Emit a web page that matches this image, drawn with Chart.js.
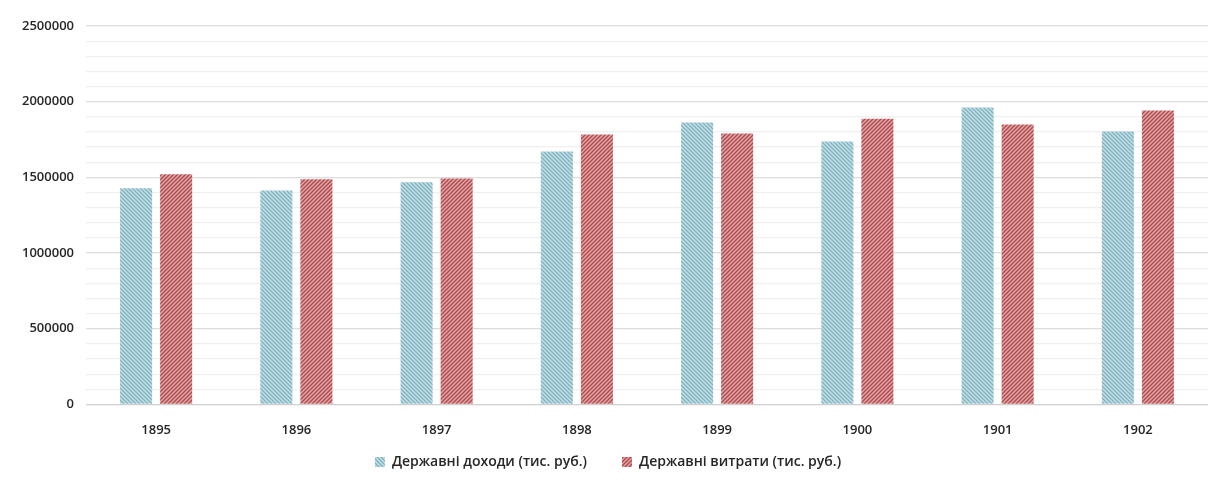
<!DOCTYPE html>
<html>
<head>
<meta charset="utf-8">
<script src="https://cdn.jsdelivr.net/npm/chart.js@4/dist/chart.umd.min.js"></script>
<style>
  html, body { margin: 0; padding: 0; background: #fff; }
  #wrap { position: relative; width: 1222px; height: 483px; }
</style>
</head>
<body>
<div id="wrap"><canvas id="myChart"></canvas></div>
<script>
const years = ['1895', '1896', '1897', '1898', '1899', '1900', '1901', '1902'];
const revenue = [1428000, 1414000, 1467000, 1671000, 1862000, 1737000, 1961000, 1803000];
const spending = [1520000, 1487000, 1493000, 1783000, 1789000, 1888000, 1849000, 1941000];
const revenueLabel = 'Державні доходи (тис. руб.)';
const spendingLabel = 'Державні витрати (тис. руб.)';

// hatch pattern: dir 1 = "\\\\", dir -1 = "////"
function hatch(bg, fg, dir) {
    const s = 4;
    const c = document.createElement('canvas');
    c.width = s; c.height = s;
    const g = c.getContext('2d');
    g.fillStyle = bg;
    g.fillRect(0, 0, s, s);
    g.strokeStyle = fg;
    g.lineWidth = 1.3;
    g.beginPath();
    if (dir > 0) {
        g.moveTo(-1, -1); g.lineTo(s + 1, s + 1);
        g.moveTo(-1, s - 1); g.lineTo(1, s + 1);
        g.moveTo(s - 1, -1); g.lineTo(s + 1, 1);
    } else {
        g.moveTo(-1, s + 1); g.lineTo(s + 1, -1);
        g.moveTo(-1, 1); g.lineTo(1, -1);
        g.moveTo(s - 1, s + 1); g.lineTo(s + 1, s - 1);
    }
    g.stroke();
    return g.createPattern(c, 'repeat');
}

const ctx = document.getElementById('myChart');
const blueFill = hatch('#c4e0e7', '#7fb1bf', 1);
const redFill = hatch('#e6a3a3', '#a94a4e', -1);
const tickFont = { family: 'Open Sans', size: 13, weight: '600' };

new Chart(ctx, {
    type: 'bar',
    data: {
        labels: years,
        datasets: [{
            label: revenueLabel,
            data: revenue,
            backgroundColor: blueFill,
            borderWidth: 0
        }, {
            label: spendingLabel,
            data: spending,
            backgroundColor: redFill,
            borderWidth: 0
        }]
    },
    options: {
        maintainAspectRatio: false,
        animation: false,
        layout: { padding: { left: 8, right: 14, top: 26, bottom: 4 } },
        datasets: { bar: { categoryPercentage: 0.571, barPercentage: 0.8 } },
        plugins: {
            tooltip: { enabled: false },
            legend: {
                position: 'bottom',
                labels: {
                    boxWidth: 10,
                    boxHeight: 10,
                    padding: 7,
                    color: '#262626',
                    font: { family: 'Open Sans', size: 14, weight: '600' },
                    // wider gap between the two legend items
                    generateLabels: (chart) => {
                        const items = Chart.defaults.plugins.legend.labels.generateLabels(chart);
                        items[0].text += '\u2003\u2003';
                        return items;
                    }
                }
            }
        },
        scales: {
            x: {
                grid: { display: false },
                border: { display: false },
                ticks: {
                    color: '#262626',
                    padding: 10,
                    font: tickFont
                }
            },
            y: {
                min: 0,
                max: 2500000,
                afterFit: (axis) => { axis.width = 78; },
                border: { display: false },
                grid: {
                    color: (c) => {
                        const v = c.tick.value;
                        if (v === 0) return '#cfcfcf';
                        return v % 500000 === 0 ? '#dcdcdc' : '#efefef';
                    },
                    lineWidth: 1.2,
                    drawTicks: false
                },
                ticks: {
                    stepSize: 100000,
                    autoSkip: false,
                    padding: 12,
                    color: '#262626',
                    font: tickFont,
                    callback: (v) => v % 500000 === 0 ? String(v) : ''
                }
            }
        }
    }
});
</script>
</body>
</html>
